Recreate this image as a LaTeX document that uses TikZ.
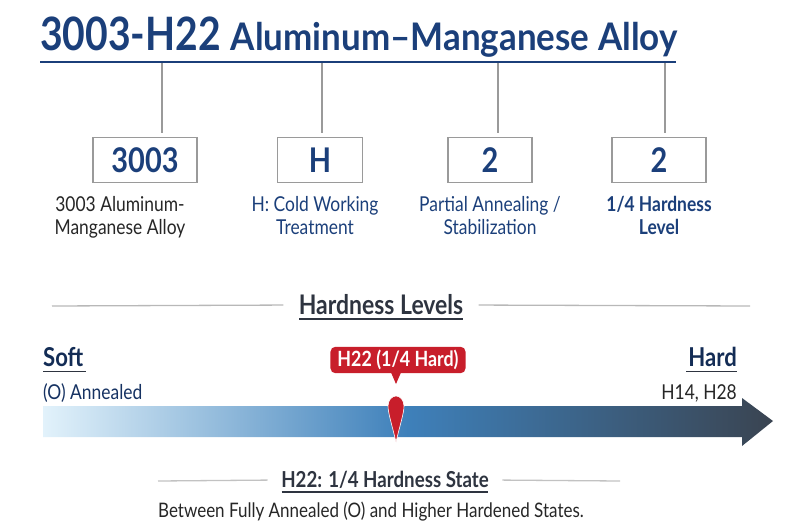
\documentclass[tikz,border=0pt]{standalone}
\usepackage{fontspec}
\setmainfont[FakeStretch=0.85]{Lato}
\newfontfamily\titlefont[FakeStretch=0.92]{Lato}
\usepackage{tikz}
\usetikzlibrary{calc,positioning}
\definecolor{navy}{HTML}{1B3F7A}
\definecolor{inkgray}{HTML}{2E3440}
\definecolor{rulegray}{HTML}{9A9A9A}
\definecolor{pinred}{HTML}{C81E2B}
\definecolor{barlight}{HTML}{E2F2FB}
\definecolor{barmid}{HTML}{3E80BA}
\definecolor{bardark}{HTML}{3A4451}
\newcommand{\fs}[1]{\fontsize{#1}{#1}\selectfont}

\begin{document}
\begin{tikzpicture}[x=1pt,y=-1pt,
  codebox/.style={draw=rulegray,line width=1.2pt,fill=white,minimum width=#1,minimum height=45pt,inner sep=0pt,text=navy,font=\fs{34}\bfseries},
  desc/.style={align=center,font=\fs{20.5},text=navy},
  heading/.style={font=\fs{27}\bfseries,text=inkgray},
  sideword/.style={font=\fs{26}\bfseries,text=navy!70!black},
  note/.style={font=\fs{20.5},text=navy!80!black},
  underl/.style={line width=2pt,draw=inkgray}]
\useasboundingbox (0,0) rectangle (800,530);

% title and its rule
\node[anchor=base west,inner sep=0pt,text=navy] (title) at (40,50)
  {{\fs{46}\bfseries 3003-H22}\hspace{10pt}{\titlefont\fs{38}\bfseries Aluminum–Manganese Alloy}};
\coordinate (rl) at (40,62);
\coordinate (rr) at (676,62);
\draw[navy,line width=2.2pt] (rl) -- (rr);

% the four code boxes
\node[codebox=104pt] (b1) at (145,160) {3003};
\node[codebox=85pt]  (b2) at (320,160) {H};
\node[codebox=84pt]  (b3) at (490,160) {2};
\node[codebox=94pt]  (b4) at (659,160) {2};
\foreach \x/\b in {162/b1,322/b2,498/b3,665/b4}{
  \coordinate (t\b) at (\x,63);
  \draw[rulegray,line width=1.2pt,shorten >=4pt] (t\b) -- (t\b |- \b.north);
}

% descriptions
\node[desc,text=black!85,anchor=north] (d1) at (120,193) {3003 Aluminum-\\[2pt]Manganese Alloy};
\node[desc,anchor=north] (d2) at (315,193) {H: Cold Working\\[2pt]Treatment};
\node[desc,anchor=north] (d3) at (490,193) {Partial Annealing /\\[2pt]Stabilization};
\node[desc,anchor=north,font=\fs{20.5}\bfseries] (d4) at (659,193) {1/4 Hardness\\[2pt]Level};

% hardness levels heading
\node[heading] (hl) at (381,305) {Hardness Levels};
\draw[underl] ($(hl.south west)+(4,0)$) -- ($(hl.south east)+(-4,0)$);
\coordinate (g1) at (52,306);
\coordinate (g2) at (750,306);
\draw[rulegray!70,line width=1.3pt,shorten >=12pt] (g1) -- (hl.west);
\draw[rulegray!70,line width=1.3pt,shorten <=12pt] (hl.east) -- (g2);

% soft / hard ends
\node[sideword,anchor=base west,inner sep=0pt] (soft) at (43,366) {Soft};
\draw[underl,line width=1.8pt] ($(soft.south west)+(0,5)$) -- ($(soft.south east)+(2,5)$);
\node[note,anchor=base west,inner sep=0pt] (ann) at (43,399) {(O) Annealed};
\node[sideword,anchor=base east,inner sep=0pt] (hard) at (737,366) {Hard};
\draw[underl,line width=1.8pt] ($(hard.south west)+(-2,5)$) -- ($(hard.south east)+(0,5)$);
\node[note,text=black!85,anchor=base east,inner sep=0pt] (hh) at (737,399) {H14, H28};

% gradient arrow
\shade[left color=barlight,right color=bardark,middle color=barmid]
  (43,406) -- (742,406) -- (742,398) -- (773,421) -- (742,446) -- (742,437) -- (43,437) -- cycle;

% H22 marker
\node[fill=pinred,rounded corners=5pt,text=white,font=\fs{21}\bfseries,minimum height=26pt,inner xsep=7pt] (mark) at (398,360) {H22 (1/4 Hard)};
\coordinate (pin) at (396,442);
\fill[pinred] ($(mark.south)+(-7,-1)$) -- (396,384) -- ($(mark.south)+(3,-1)$) -- cycle;
\fill[pinred,draw=white,line width=0.6pt] (pin) .. controls (392,425) and (388,413) .. (388,406)
  .. controls (388,400) and (392,396) .. (396,396) .. controls (400,396) and (404,400) .. (404,406)
  .. controls (404,413) and (400,425) .. (pin);

% bottom note
\node[heading,font=\fs{22}\bfseries] (st) at (385,480) {H22: 1/4 Hardness State};
\draw[underl,line width=1.8pt] ($(st.south west)+(4,0)$) -- ($(st.south east)+(-4,0)$);
\coordinate (s1) at (158,481);
\coordinate (s2) at (620,481);
\draw[rulegray!60,line width=1.3pt,shorten >=10pt] (s1) -- (st.west);
\draw[rulegray!60,line width=1.3pt,shorten <=10pt] (st.east) -- (s2);
\node[font=\fs{20},text=black!85] (btw) at (371,512) {Between Fully Annealed (O) and Higher Hardened States.};
\end{tikzpicture}
\end{document}
